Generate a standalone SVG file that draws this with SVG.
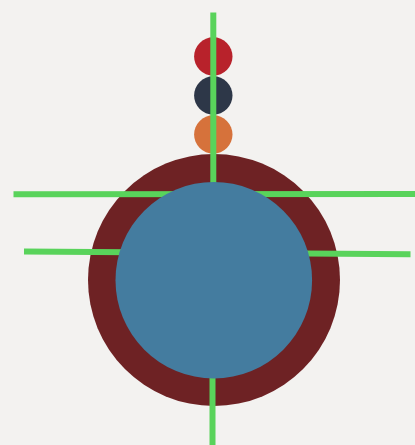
<svg xmlns="http://www.w3.org/2000/svg" width="415" height="445" viewBox="0 0 415 445">
<style>
.edge{stroke:#59d35b;stroke-width:6;fill:none}
</style>
<rect width="415" height="445" fill="#f3f2f0"/>
<g id="ring"><circle cx="214" cy="280" r="126" fill="#6e2224"/></g>
<g id="dot-red"><circle cx="213.3" cy="56.5" r="19.2" fill="#b8222b"/></g>
<g id="dot-navy"><circle cx="213.3" cy="95.5" r="19.2" fill="#2d3748"/></g>
<g id="dot-orange"><circle cx="213.3" cy="134.5" r="19.2" fill="#d6723b"/></g>
<g id="connectors">
<line class="edge" x1="213.3" y1="12.5" x2="213.3" y2="200"/>
<line class="edge" x1="13.5" y1="194.3" x2="415" y2="194"/>
<line class="edge" x1="24" y1="251.6" x2="410.5" y2="254.2"/>
<line class="edge" x1="212.5" y1="360" x2="212.5" y2="445"/>
</g>
<g id="core"><circle cx="213.8" cy="280.2" r="98.3" fill="#447c9f"/></g>
</svg>
